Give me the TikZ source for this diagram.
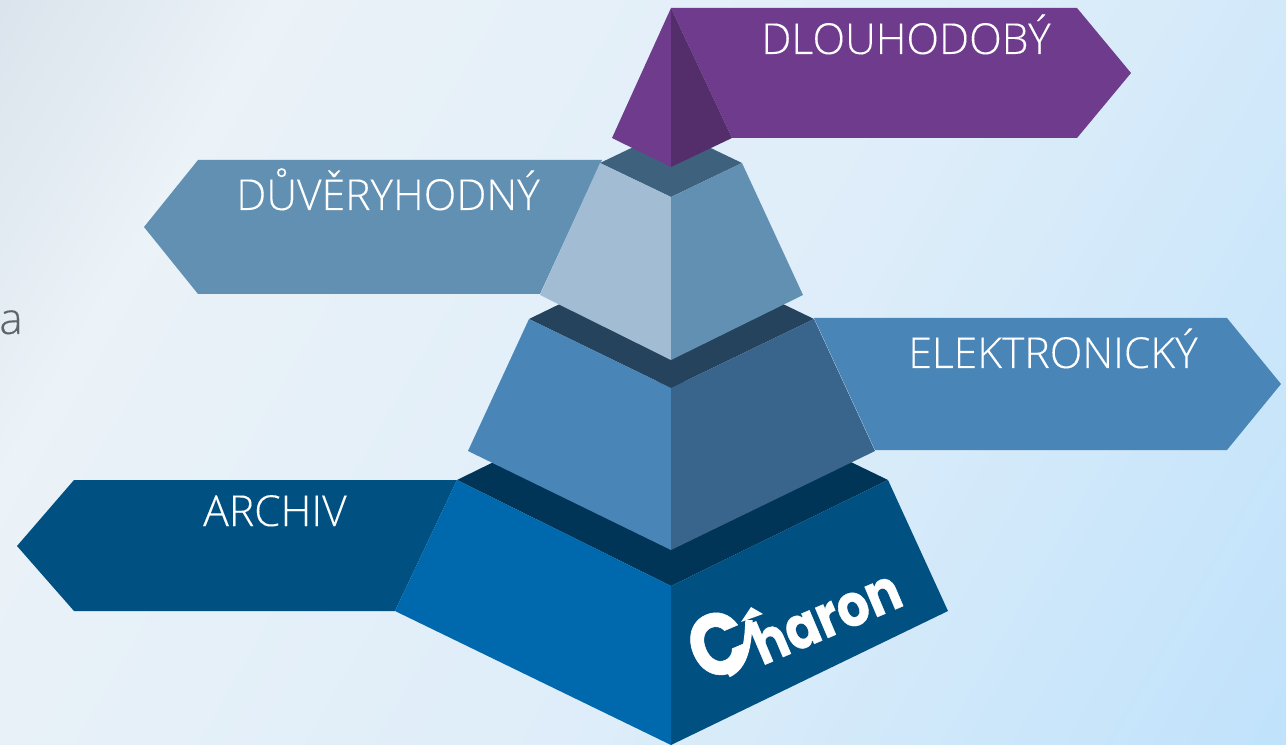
\documentclass[tikz,border=0pt]{standalone}
\usepackage{fontspec}
\setmainfont{Open Sans Light}[FakeBold=0.12]
\newfontfamily\logofont{Poppins}[UprightFont=* Bold,FakeStretch=0.86,FakeBold=0.6]
\definecolor{bgA}{HTML}{DBE4EC}
\definecolor{bgB}{HTML}{EBF2F8}
\definecolor{bgC}{HTML}{DDEDF9}
\definecolor{bgD}{HTML}{C0E2FB}
\definecolor{purpleL}{HTML}{6F3B8C}
\definecolor{purpleD}{HTML}{542E6B}
\definecolor{slateTop}{HTML}{3E627E}
\definecolor{paleFace}{HTML}{A1BCD3}
\definecolor{midFace}{HTML}{6290B3}
\definecolor{navyTop}{HTML}{26435E}
\definecolor{steelL}{HTML}{4A85B7}
\definecolor{steelD}{HTML}{39648C}
\definecolor{deepTop}{HTML}{003558}
\definecolor{baseL}{HTML}{0069AD}
\definecolor{baseD}{HTML}{005182}
\definecolor{strayText}{HTML}{5F6469}
\pgfdeclarehorizontalshading{pagebg}{100bp}{
  color(0bp)=(bgA);
  color(25bp)=(bgA);
  color(33bp)=(bgB);
  color(55bp)=(bgC);
  color(75bp)=(bgD);
  color(100bp)=(bgD)}
\tikzset{
  label/.style={text=white,font=\fontsize{32}{36}\selectfont,inner sep=0pt,anchor=base},
  stray/.style={text=strayText,font=\fontsize{33}{36}\selectfont,inner sep=0pt,anchor=base},
  logotext/.style={text=white,inner sep=0pt,anchor=base west,rotate=23,
     font=\logofont\fontsize{44}{48}\selectfont},
  logoC/.style={text=white,inner sep=0pt,anchor=center,rotate=23,
     font=\logofont\fontsize{66}{70}\selectfont},
}
\begin{document}
\begin{tikzpicture}[x=0.75pt,y=-0.75pt]
\useasboundingbox (0,0) rectangle (1286,745);
% background
\begin{scope}
\clip (0,0) rectangle (1286,745);
\shade[shading=pagebg,shading angle=-30] (-100,-371) rectangle (1386,1115);
\end{scope}
% stray text at left edge
\node[stray] (straya) at (11,334) {a};
\node[stray] (strayn) at (-14,603) {n};
% arrows
\fill[baseD] (457,480) -- (74,480) -- (17,546) -- (74,611) -- (395,611) -- cycle;
\fill[steelL] (814,318) -- (1227,318) -- (1281,384) -- (1227,450) -- (875,450) -- cycle;
\fill[midFace] (602,160) -- (198,160) -- (144,227) -- (198,294) -- (540,294) -- cycle;
\fill[purpleL] (671,8) -- (1077,8) -- (1131,73) -- (1077,138) -- (732,138) -- cycle;
% base layer
\fill[deepTop] (457,480) -- (671,375) -- (888,480) -- (671,586) -- cycle;
\fill[baseL] (457,480) -- (671,586) -- (671,745) -- (395,611) -- cycle;
\fill[baseD] (888,480) -- (671,586) -- (671,745) -- (948,611) -- cycle;
% third layer
\fill[navyTop] (529,319) -- (671,250) -- (814,319) -- (671,388) -- cycle;
\fill[steelL] (529,319) -- (671,388) -- (671,550) -- (468,451) -- cycle;
\fill[steelD] (814,319) -- (671,388) -- (671,550) -- (875,451) -- cycle;
% second layer
\fill[slateTop] (600,163) -- (671,129) -- (742,163) -- (671,197) -- cycle;
\fill[paleFace] (600,163) -- (671,197) -- (671,360) -- (540,295) -- cycle;
\fill[midFace] (742,163) -- (671,197) -- (671,360) -- (803,295) -- cycle;
% apex
\fill[purpleL] (671,8) -- (671,167) -- (612,138) -- cycle;
\fill[purpleD] (671,8) -- (671,167) -- (732,138) -- cycle;
% labels
\node[label] (dlouhodoby) at (906,54) {DLOUHODOBÝ};
\node[label] (duveryhodny) at (388,210) {DŮVĚRYHODNÝ};
\node[label] (elektronicky) at (1053,368) {ELEKTRONICKÝ};
\node[label] (archiv) at (275,526) {ARCHIV};
% logo
\node[logoC] (logoc) at (718,644) {C};
\node[logotext] (logorest) at (762,666) {haron};
\draw[white,line width=5.5pt] (728,674) .. controls (745,666) and (748,645) .. (749,620);
\fill[white] (751,607) -- (741,622) -- (763,614) -- cycle;
\end{tikzpicture}
\end{document}
